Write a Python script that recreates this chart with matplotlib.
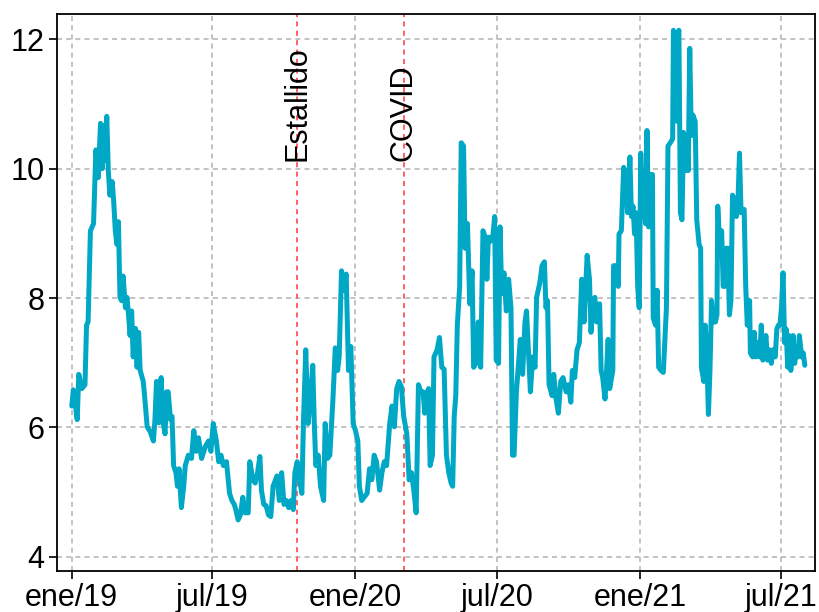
import matplotlib
matplotlib.use("Agg")
import matplotlib.pyplot as plt
import numpy as np
import pandas as pd

# days since 2019-01-01 and the series value
day = [
    0, 2, 7, 9, 13, 17, 19, 21, 24, 28, 31, 34, 37, 39, 41, 43, 45, 47, 49, 52,
    54, 56, 58, 60, 62, 64, 66, 69, 71, 73, 75, 77, 79, 82, 84, 86, 88, 92, 94, 97,
    101, 105, 107, 109, 112, 115, 117, 120, 122, 124, 127, 129, 131, 134, 136, 138, 141, 144, 146,
    150, 154, 157, 160, 163, 167, 172, 176, 179, 182, 186, 189, 192, 195, 199, 203, 206, 209, 211,
    214, 217, 220, 223, 227, 229, 233, 236, 239, 242, 244, 247, 250, 253, 256, 259, 264, 267, 270,
    273, 276, 279, 282, 285, 287, 290, 293, 296, 298, 301, 304,
    307, 310, 312, 314, 317, 320, 324, 326, 329, 332, 336, 339, 342, 344, 347, 350, 353, 356, 359,
    362, 365, 368, 370, 373, 376, 380, 383, 386, 389, 392, 396, 399, 402, 405, 409, 412, 415, 418,
    421, 424, 427, 431, 434, 437, 440, 443, 446, 449,
    452, 454, 456, 459, 461, 464, 466, 470, 473, 476, 479, 482, 485, 488, 490, 492, 494, 496, 499,
    501, 504, 506, 509, 512, 515, 517, 520, 523, 526, 529, 532, 534, 536, 539, 542, 544, 546, 549,
    551, 553, 556, 559, 562, 565, 567, 569, 572, 574, 577, 580, 583, 585, 587, 590, 593, 596, 598,
    602, 605, 608, 610,
    612, 614, 618, 620, 623, 626, 629, 632, 636, 639, 642, 644, 647, 650, 653, 656, 659, 663, 666,
    668, 670, 673, 675, 679, 681, 683, 686, 688, 690, 692, 696, 697, 701, 703, 704, 707, 710, 713,
    715, 718, 720, 722, 724, 726, 728, 730, 732, 734, 736, 738, 740, 742, 744, 747, 748, 751, 753,
    755, 758, 761,
    765, 767, 770, 773, 774, 777, 779, 780, 781, 783, 785, 787, 789, 791, 793, 795, 797, 799, 802,
    804, 807, 809, 810, 813, 815, 817, 819, 821, 823, 825, 828, 830, 831, 834, 836, 838, 840, 842,
    844, 846, 848, 850, 852, 855, 857, 859, 861, 863, 865, 867, 869, 872, 873, 876, 878, 880, 883,
    885, 887, 889, 891, 893, 895, 897, 900, 902, 905, 907, 909, 911, 913, 915, 917, 919, 921, 923,
    925, 928, 930, 932, 934, 936, 939, 941, 943,
]
level = [
    6.33, 6.58, 6.12, 6.82, 6.60, 6.66, 7.58, 7.63, 9.04, 9.15, 10.29, 9.86, 10.70, 10.00, 10.67, 10.13, 10.81, 9.97, 9.59, 9.80,
    9.48, 9.04, 8.83, 9.18, 8.01, 7.96, 8.34, 7.85, 8.01, 7.74, 7.42, 7.80, 7.09, 7.53, 6.93, 7.47, 6.88, 6.71, 6.44, 6.01,
    5.93, 5.79, 6.12, 6.71, 6.07, 6.77, 6.12, 5.90, 6.55, 6.55, 6.12, 6.17, 5.41, 5.30, 5.09, 5.36, 4.76, 5.09, 5.41,
    5.57, 5.52, 5.95, 5.63, 5.84, 5.52, 5.71, 5.79, 5.63, 6.06, 5.79, 5.47, 5.57, 5.41, 5.47, 4.98, 4.87, 4.81, 4.73,
    4.57, 4.65, 4.92, 4.68, 4.68, 5.47, 5.19, 5.14, 5.30, 5.55, 5.03, 4.81, 4.79, 4.65, 4.62, 5.09, 5.25, 4.87, 5.30,
    4.81, 4.87, 4.76, 4.87, 4.73, 5.30, 5.47, 5.19, 4.98, 6.06, 7.20, 6.06,
    6.44, 6.96, 6.06, 5.41, 5.57, 5.09, 4.87, 6.06, 5.52, 5.57, 6.44, 7.23, 6.88, 7.09, 8.42, 8.12, 8.37, 6.88, 7.25,
    6.06, 5.95, 5.79, 5.09, 4.87, 4.92, 4.98, 5.36, 5.19, 5.57, 5.47, 5.03, 5.30, 5.47, 5.41, 6.06, 6.33, 6.01, 6.60,
    6.71, 6.63, 6.17, 5.90, 5.19, 5.30, 5.03, 4.68, 6.66, 6.55,
    6.55, 6.22, 6.49, 6.60, 5.41, 5.57, 7.09, 7.20, 7.39, 6.93, 6.90, 5.57, 5.30, 5.14, 5.09, 6.17, 6.49, 7.58, 8.18,
    10.40, 10.35, 8.77, 9.15, 7.91, 8.42, 6.93, 6.99, 7.63, 6.93, 9.04, 8.94, 8.29, 8.94, 8.88, 8.99, 9.26, 7.04, 6.99,
    9.10, 8.07, 8.39, 7.80, 8.29, 7.85, 5.57, 5.57, 6.55, 6.88, 7.36, 6.82, 7.63, 7.80, 7.31, 6.55, 7.09, 6.93, 8.01,
    8.23, 8.50, 8.56, 7.85,
    7.96, 6.66, 6.49, 6.82, 6.44, 6.22, 6.71, 6.77, 6.55, 6.66, 6.39, 6.88, 6.77, 7.20, 7.31, 8.29, 7.63, 8.66, 8.29,
    7.47, 7.96, 8.01, 7.63, 7.91, 6.88, 6.77, 6.44, 6.88, 7.36, 6.60, 6.88, 8.50, 8.50, 8.18, 8.99, 9.04, 10.02, 9.91,
    9.32, 10.18, 9.26, 9.42, 8.99, 9.32, 8.18, 7.85, 10.24, 9.26, 9.80, 9.15, 10.59, 9.10, 9.91, 9.91, 7.69, 7.58, 8.12,
    6.93, 6.88, 6.85,
    7.85, 10.35, 10.40, 10.46, 12.14, 11.48, 10.73, 12.08, 12.14, 9.32, 9.21, 10.56, 9.97, 10.51, 9.97, 11.86, 10.51, 10.83, 10.73,
    9.21, 8.83, 8.77, 6.93, 6.71, 7.58, 7.09, 6.20, 6.88, 7.96, 7.63, 7.63, 7.74, 9.42, 8.72, 9.04, 8.18, 8.18, 8.77,
    8.77, 7.74, 7.96, 9.59, 9.53, 9.26, 9.48, 10.24, 9.32, 9.37, 9.37, 8.18, 7.58, 7.96, 7.15, 7.09, 7.47, 7.09, 7.31,
    7.09, 7.58, 7.04, 7.25, 7.42, 7.04, 7.20, 6.99, 7.20, 7.09, 7.52, 7.58, 7.58, 7.85, 8.39, 7.31, 7.52, 6.93, 7.42,
    6.88, 7.42, 6.99, 7.25, 7.09, 7.42, 7.09, 7.15, 6.96,
]

events = ["Estallido", "COVID"]
event_dates = ["2019-10-18", "2020-03-03"]

tick_dates = ["2019-01-01", "2019-07-01", "2020-01-01", "2020-07-01", "2021-01-01", "2021-07-01"]
tick_labels = ["ene/19", "jul/19", "ene/20", "jul/20", "ene/21", "jul/21"]

start = pd.Timestamp("2019-01-01")
dates = start + pd.to_timedelta(day, unit="D")

plt.rcParams["font.family"] = ["Liberation Sans", "DejaVu Sans"]

fig = plt.figure(figsize=(8.19, 6.12), dpi=100)
ax = fig.add_axes([0.0696, 0.067, 0.9254, 0.910])

ax.plot(dates, level, color="#00a8c6", lw=3.6, solid_joinstyle="round",
        solid_capstyle="round", zorder=3)

for name, d in zip(events, event_dates):
    d = pd.Timestamp(d)
    ax.axvline(d, color="#ff5555", lw=1.3, ls=(0, (2.8, 2.4)), zorder=2)
    ax.text(d, 10.12, name, rotation=90, ha="center", va="bottom", fontsize=22, zorder=4)

ax.set_xticks(pd.to_datetime(tick_dates))
ax.set_xticklabels(tick_labels)
ax.set_yticks([4, 6, 8, 10, 12])
ax.set_xlim(start - pd.Timedelta(days=19), start + pd.Timedelta(days=956))
ax.set_ylim(3.78, 12.39)

ax.grid(True, color="#b8b8b8", ls=(0, (3, 2.5)), lw=1.2, zorder=0)
ax.tick_params(labelsize=22, length=6, width=1.2, direction="out", pad=3)
for s in ax.spines.values():
    s.set_linewidth(1.3)

fig.savefig("out.png", dpi=100)
